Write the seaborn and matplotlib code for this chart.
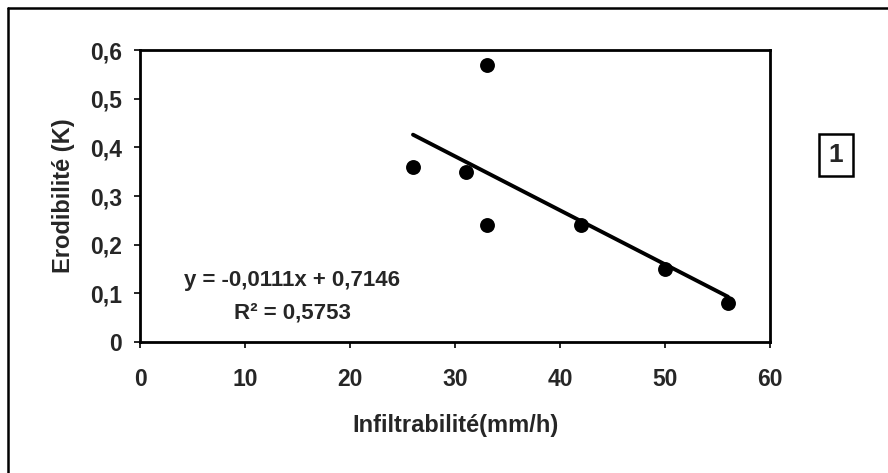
import numpy as np
import pandas as pd
import matplotlib
matplotlib.use("Agg")
import matplotlib.pyplot as plt
import seaborn as sns
from matplotlib.lines import Line2D

# donnees
infiltrabilite = [26, 31, 33, 33, 42, 50, 56]
erodibilite = [0.36, 0.35, 0.57, 0.24, 0.24, 0.15, 0.08]
pente = -0.0111
ordonnee = 0.7146
r2 = 0.5753
x_ticks = [0, 10, 20, 30, 40, 50, 60]
y_ticks = [0, 0.1, 0.2, 0.3, 0.4, 0.5, 0.6]
y_labels = ["0", "0,1", "0,2", "0,3", "0,4", "0,5", "0,6"]

sns.set_theme(style="white")
plt.rcParams['font.family'] = ['Liberation Sans', 'DejaVu Sans']

df = pd.DataFrame({"x": infiltrabilite, "y": erodibilite})

W, H = 888, 473
fig = plt.figure(figsize=(W/100, H/100), dpi=100)
ax = fig.add_axes([140/W, 1-342/H, 630/W, 292/H])

sns.scatterplot(data=df, x="x", y="y", ax=ax, color="black", s=115,
                edgecolor="black", linewidth=0, zorder=3)
xl = np.array([min(infiltrabilite), max(infiltrabilite)])
ax.plot(xl, pente*xl + ordonnee, color="black", lw=2.8, zorder=2)

ax.set_xlim(0, 60)
ax.set_ylim(0, 0.6)
ax.set_xticks(x_ticks)
ax.set_xticklabels([str(t) for t in x_ticks], fontsize=16.5, fontweight="bold")
ax.set_yticks(y_ticks)
ax.set_yticklabels(y_labels, fontsize=16.5, fontweight="bold")
ax.tick_params(axis="both", direction="out", length=4, width=1.2, color="black",
               bottom=True, left=True)
ax.tick_params(axis="x", pad=15)
ax.tick_params(axis="y", pad=9)
for s in ax.spines.values():
    s.set_color("black")
    s.set_linewidth(2)
ax.set_xlabel("Infiltrabilité(mm/h)", fontsize=17, fontweight="bold", labelpad=16)
ax.set_ylabel("Erodibilité (K)", fontsize=17, fontweight="bold", labelpad=11)

ax.text(14.5, 0.127, "y = -0,0111x + 0,7146", fontsize=16, fontweight="bold",
        ha="center", va="center")
ax.text(14.5, 0.06, "R² = 0,5753", fontsize=16, fontweight="bold",
        ha="center", va="center")

# bords du cadre (scan rogne: seulement gauche et haut)
fig.add_artist(Line2D([8/W, 8/W], [0, 1-8/H], transform=fig.transFigure,
                      color="black", lw=1.8))
fig.add_artist(Line2D([8/W, 1], [1-8/H, 1-8/H], transform=fig.transFigure,
                      color="black", lw=1.8))
fig.text(836/W, 1-155/H, "1", fontsize=19, fontweight="bold", ha="center",
         va="center", bbox=dict(boxstyle="square,pad=0.35", fc="white",
                                ec="black", lw=1.8))

fig.savefig("out.png", dpi=100)
